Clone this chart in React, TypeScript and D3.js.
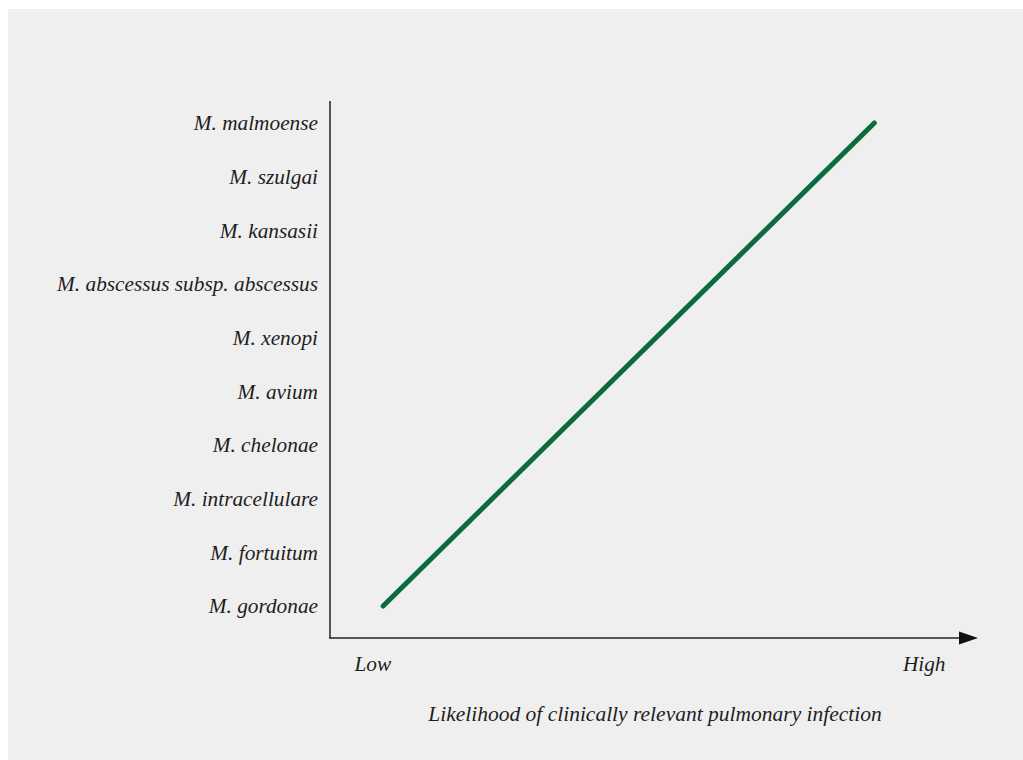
import React from "react";
import * as d3 from "d3";

const categories = [
  "M. gordonae",
  "M. fortuitum",
  "M. intracellulare",
  "M. chelonae",
  "M. avium",
  "M. xenopi",
  "M. abscessus subsp. abscessus",
  "M. kansasii",
  "M. szulgai",
  "M. malmoense",
];

// likelihood trend line: start (lowest species) and end (highest species)
const trendCategories = ["M. gordonae", "M. malmoense"];
const trendValues = [0.082, 0.84];

const xTickLabels = ["Low", "High"];
const xTickValues = [0.066, 0.917];
const xAxisTitle = "Likelihood of clinically relevant pulmonary infection";

const W = 1023;
const H = 760;
const FONT = "'Liberation Serif', serif";
const FS = 21.3;

export default function App() {
  const axisX = 330;
  const axisY = 638;
  const axisTop = 101;
  const arrowTip = 978;

  const y = d3.scalePoint<string>().domain(categories).range([606, 123]);
  const x = d3.scaleLinear().domain([0, 1]).range([axisX, arrowTip]);

  const lineGen = d3
    .line<[string, number]>()
    .x((d) => x(d[1]))
    .y((d) => y(d[0]) as number);
  const trend: [string, number][] = trendCategories.map((c, i) => [c, trendValues[i]]);

  return (
    <svg
      width={W}
      height={H}
      style={{ display: "block", position: "absolute", left: 0, top: 0 }}
    >
      <rect x={0} y={0} width={W} height={H} fill="#ffffff" />
      <rect x={8} y={9} width={W - 8} height={H - 9} fill="#efefef" />
      {categories.map((c) => (
        <text
          key={c}
          x={318}
          y={y(c)}
          dy="0.35em"
          textAnchor="end"
          fontFamily={FONT}
          fontStyle="italic"
          fontSize={FS}
          fill="#1e1e1e"
        >
          {c}
        </text>
      ))}
      <line x1={axisX} x2={axisX} y1={axisTop} y2={axisY} stroke="#222" strokeWidth={1.5} />
      <line x1={axisX - 1} x2={arrowTip - 14} y1={axisY} y2={axisY} stroke="#222" strokeWidth={1.5} />
      <path
        d={`M${arrowTip},${axisY} L${arrowTip - 19},${axisY - 6.5} L${arrowTip - 19},${axisY + 6.5} Z`}
        fill="#111"
      />
      <path
        d={lineGen(trend) || ""}
        fill="none"
        stroke="#0c6b3a"
        strokeWidth={5}
        strokeLinecap="round"
      />
      {xTickLabels.map((t, i) => (
        <text
          key={t}
          x={x(xTickValues[i])}
          y={664}
          dy="0.35em"
          textAnchor="middle"
          fontFamily={FONT}
          fontStyle="italic"
          fontSize={FS}
          fill="#1e1e1e"
        >
          {t}
        </text>
      ))}
      <text
        x={655}
        y={713}
        dy="0.35em"
        textAnchor="middle"
        fontFamily={FONT}
        fontStyle="italic"
        fontSize={21.5}
        fill="#1e1e1e"
      >
        {xAxisTitle}
      </text>
    </svg>
  );
}
